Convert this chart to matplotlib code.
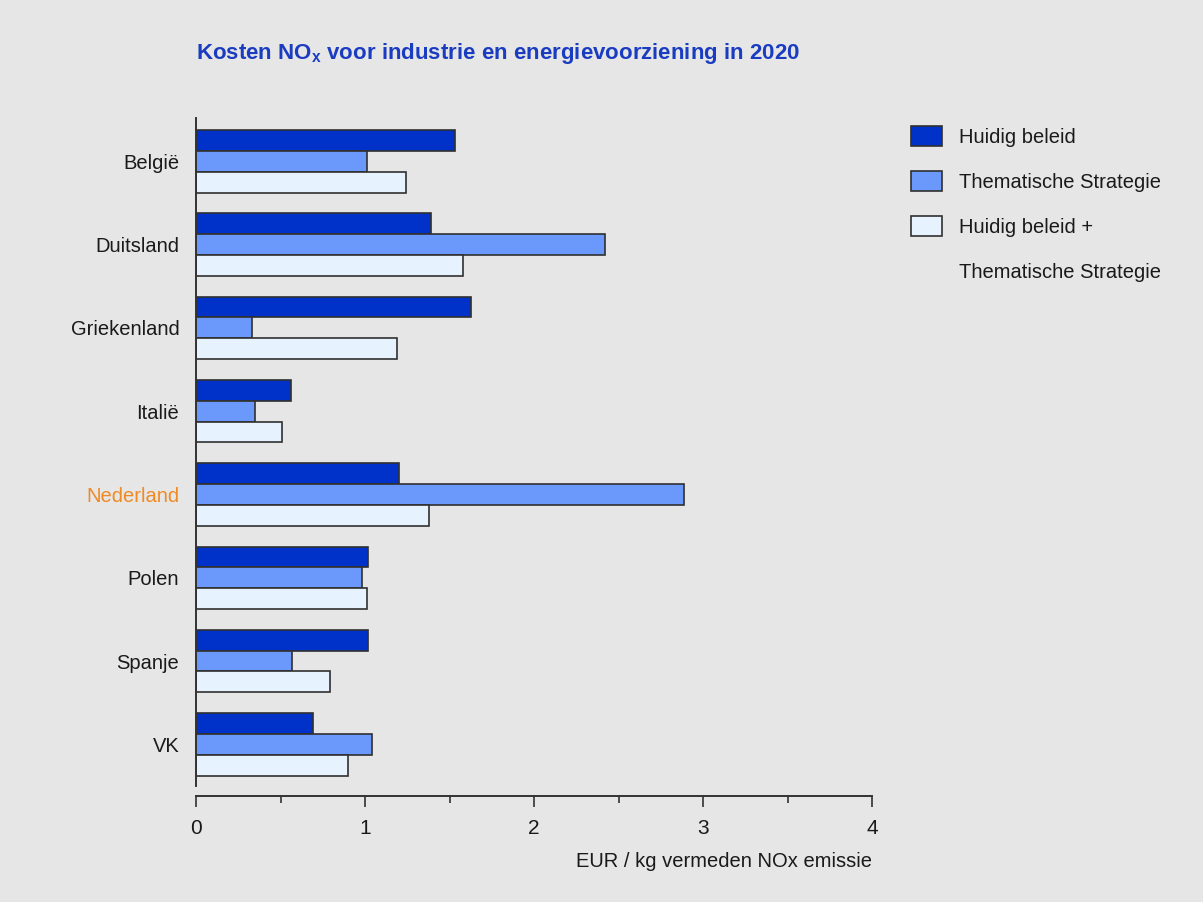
import matplotlib
matplotlib.use("Agg")
import matplotlib.pyplot as plt
from matplotlib.patches import Patch
from matplotlib.ticker import MultipleLocator
import numpy as np

countries = ["België", "Duitsland", "Griekenland", "Italië", "Nederland", "Polen", "Spanje", "VK"]
huidig = [1.53, 1.39, 1.63, 0.56, 1.20, 1.02, 1.02, 0.69]
thematisch = [1.01, 2.42, 0.33, 0.35, 2.89, 0.98, 0.57, 1.04]
combinatie = [1.24, 1.58, 1.19, 0.51, 1.38, 1.01, 0.79, 0.90]
series_labels = ["Huidig beleid", "Thematische Strategie", "Huidig beleid +", "Thematische Strategie"]
xticks = [0, 1, 2, 3, 4]

plt.rcParams['font.family'] = ['Liberation Sans', 'DejaVu Sans']

bg = "#e6e6e6"
c_dark = "#0031c8"
c_mid = "#6b98fb"
c_light = "#e6f3ff"
edge = "#303030"

fig = plt.figure(figsize=(12.03, 9.02), dpi=100, facecolor=bg)
ax = fig.add_axes([196/1203, 1-786/902, (872-196)/1203, (786-118)/902])
ax.set_facecolor(bg)

y = np.arange(len(countries))
h = 0.25
ax.barh(y - h, huidig, height=h, color=c_dark, edgecolor=edge, linewidth=1.2)
ax.barh(y, thematisch, height=h, color=c_mid, edgecolor=edge, linewidth=1.2)
ax.barh(y + h, combinatie, height=h, color=c_light, edgecolor=edge, linewidth=1.2)

ax.set_ylim(7.5, -0.52)
ax.set_xlim(0, 4)
ax.set_yticks(y)
ax.set_yticklabels(countries, fontsize=14.5, color="#1a1a1a")
ax.get_yticklabels()[4].set_color("#f08a24")
ax.tick_params(axis='y', length=0, pad=12)
ax.set_xticks(xticks)
ax.xaxis.set_minor_locator(MultipleLocator(0.5))
ax.tick_params(axis='x', which='major', length=8, width=1.2, color="#333333", labelsize=15, labelcolor="#1a1a1a", pad=9)
ax.tick_params(axis='x', which='minor', length=5, width=1.2, color="#333333")
for s in ["top", "right"]:
    ax.spines[s].set_visible(False)
ax.spines["left"].set_color("#333333")
ax.spines["left"].set_linewidth(1.4)
ax.spines["bottom"].set_color("#333333")
ax.spines["bottom"].set_linewidth(1.4)
ax.spines["bottom"].set_position(("outward", 7))

ax.set_xlabel("EUR / kg vermeden NOx emissie", fontsize=14.5, color="#1a1a1a", loc="right", labelpad=10)

fig.text(196/1203, 1-53/902, "Kosten NO$_\\mathregular{x}$ voor industrie en energievoorziening in 2020",
         fontsize=16, fontweight="bold", color="#1a3cc0", va="center", ha="left")

handles = [Patch(facecolor=c_dark, edgecolor=edge, linewidth=1.2),
           Patch(facecolor=c_mid, edgecolor=edge, linewidth=1.2),
           Patch(facecolor=c_light, edgecolor=edge, linewidth=1.2),
           Patch(facecolor="none", edgecolor="none")]
fig.legend(handles, series_labels, loc="upper left", bbox_to_anchor=(893/1203, 1-108/902),
           frameon=False, fontsize=14.5, handlelength=1.55, handleheight=1.15,
           labelspacing=1.2, handletextpad=0.85, labelcolor="#1a1a1a")

fig.savefig("out.png", dpi=100, facecolor=bg)
